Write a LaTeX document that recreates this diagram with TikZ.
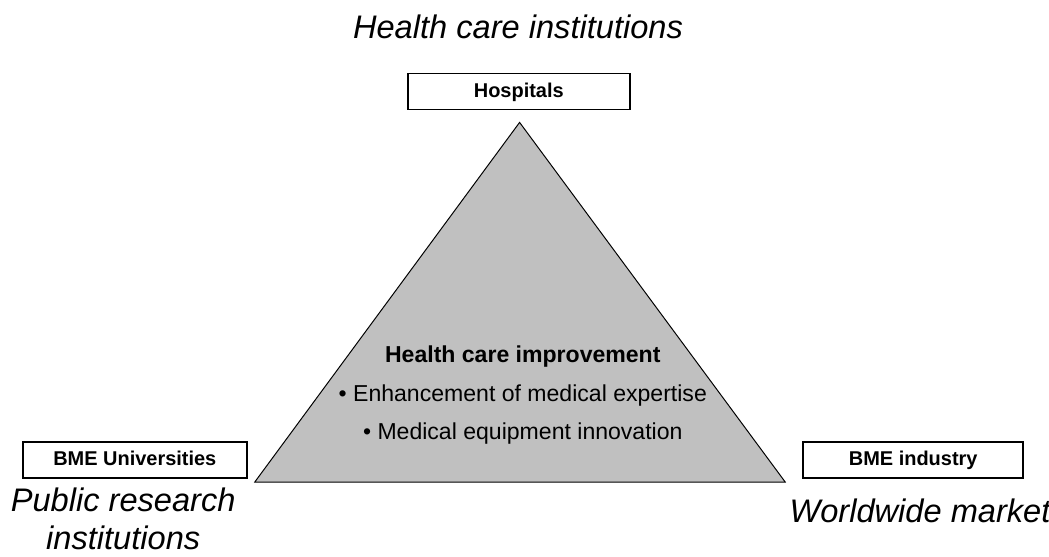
\documentclass[tikz,border=0pt]{standalone}
\usepackage{fontspec}
\setmainfont{Liberation Sans}
\usepackage{xcolor}
\usetikzlibrary{positioning}
\definecolor{dreieck}{RGB}{192,192,192}

\begin{document}
\begin{tikzpicture}[
    box/.style={draw, line width=1.1pt, minimum width=5.55cm, minimum height=0.9cm,
      inner sep=0pt, text height=10.4pt, text depth=2.6pt,
      font=\fontsize{14.2}{17}\selectfont\bfseries},
    akteur/.style={font=\fontsize{23.2}{27}\selectfont\itshape, align=center, inner sep=0pt}
  ]
    \useasboundingbox (0,0) rectangle (26.225,-13.9);
    % Dreieck der drei Partner
    \coordinate (spitze) at (12.99,-3.06);
    \coordinate (links) at (6.37,-12.05);
    \coordinate (rechts) at (19.63,-12.05);
    \draw[fill=dreieck, line width=0.7pt, line join=miter] (spitze) -- (links) -- (rechts) -- cycle;
    \node[font=\fontsize{16.4}{27.3}\selectfont, align=center, inner sep=0pt] (ziel) at (13.07,-9.88)
      {\textbf{Health care improvement}\\ \textbullet\ Enhancement of medical expertise\\ \textbullet\ Medical equipment innovation};
    % Kaesten an den Ecken
    \node[box] (hosp) at (12.97,-2.29) {Hospitals};
    \node[box, minimum width=5.6cm] (uni) at (3.37,-11.5) {BME Universities};
    \node[box, minimum width=5.5cm] (ind) at (22.83,-11.5) {BME industry};
    % Beschriftungen
    \node[akteur, anchor=base] (inst) at (12.95,-0.95) {Health care institutions};
    \node[akteur] (forsch) at (3.08,-12.97) {Public research\\ institutions};
    \node[akteur, anchor=base] (markt) at (23.0,-13.05) {Worldwide market};
  \end{tikzpicture}
\end{document}
